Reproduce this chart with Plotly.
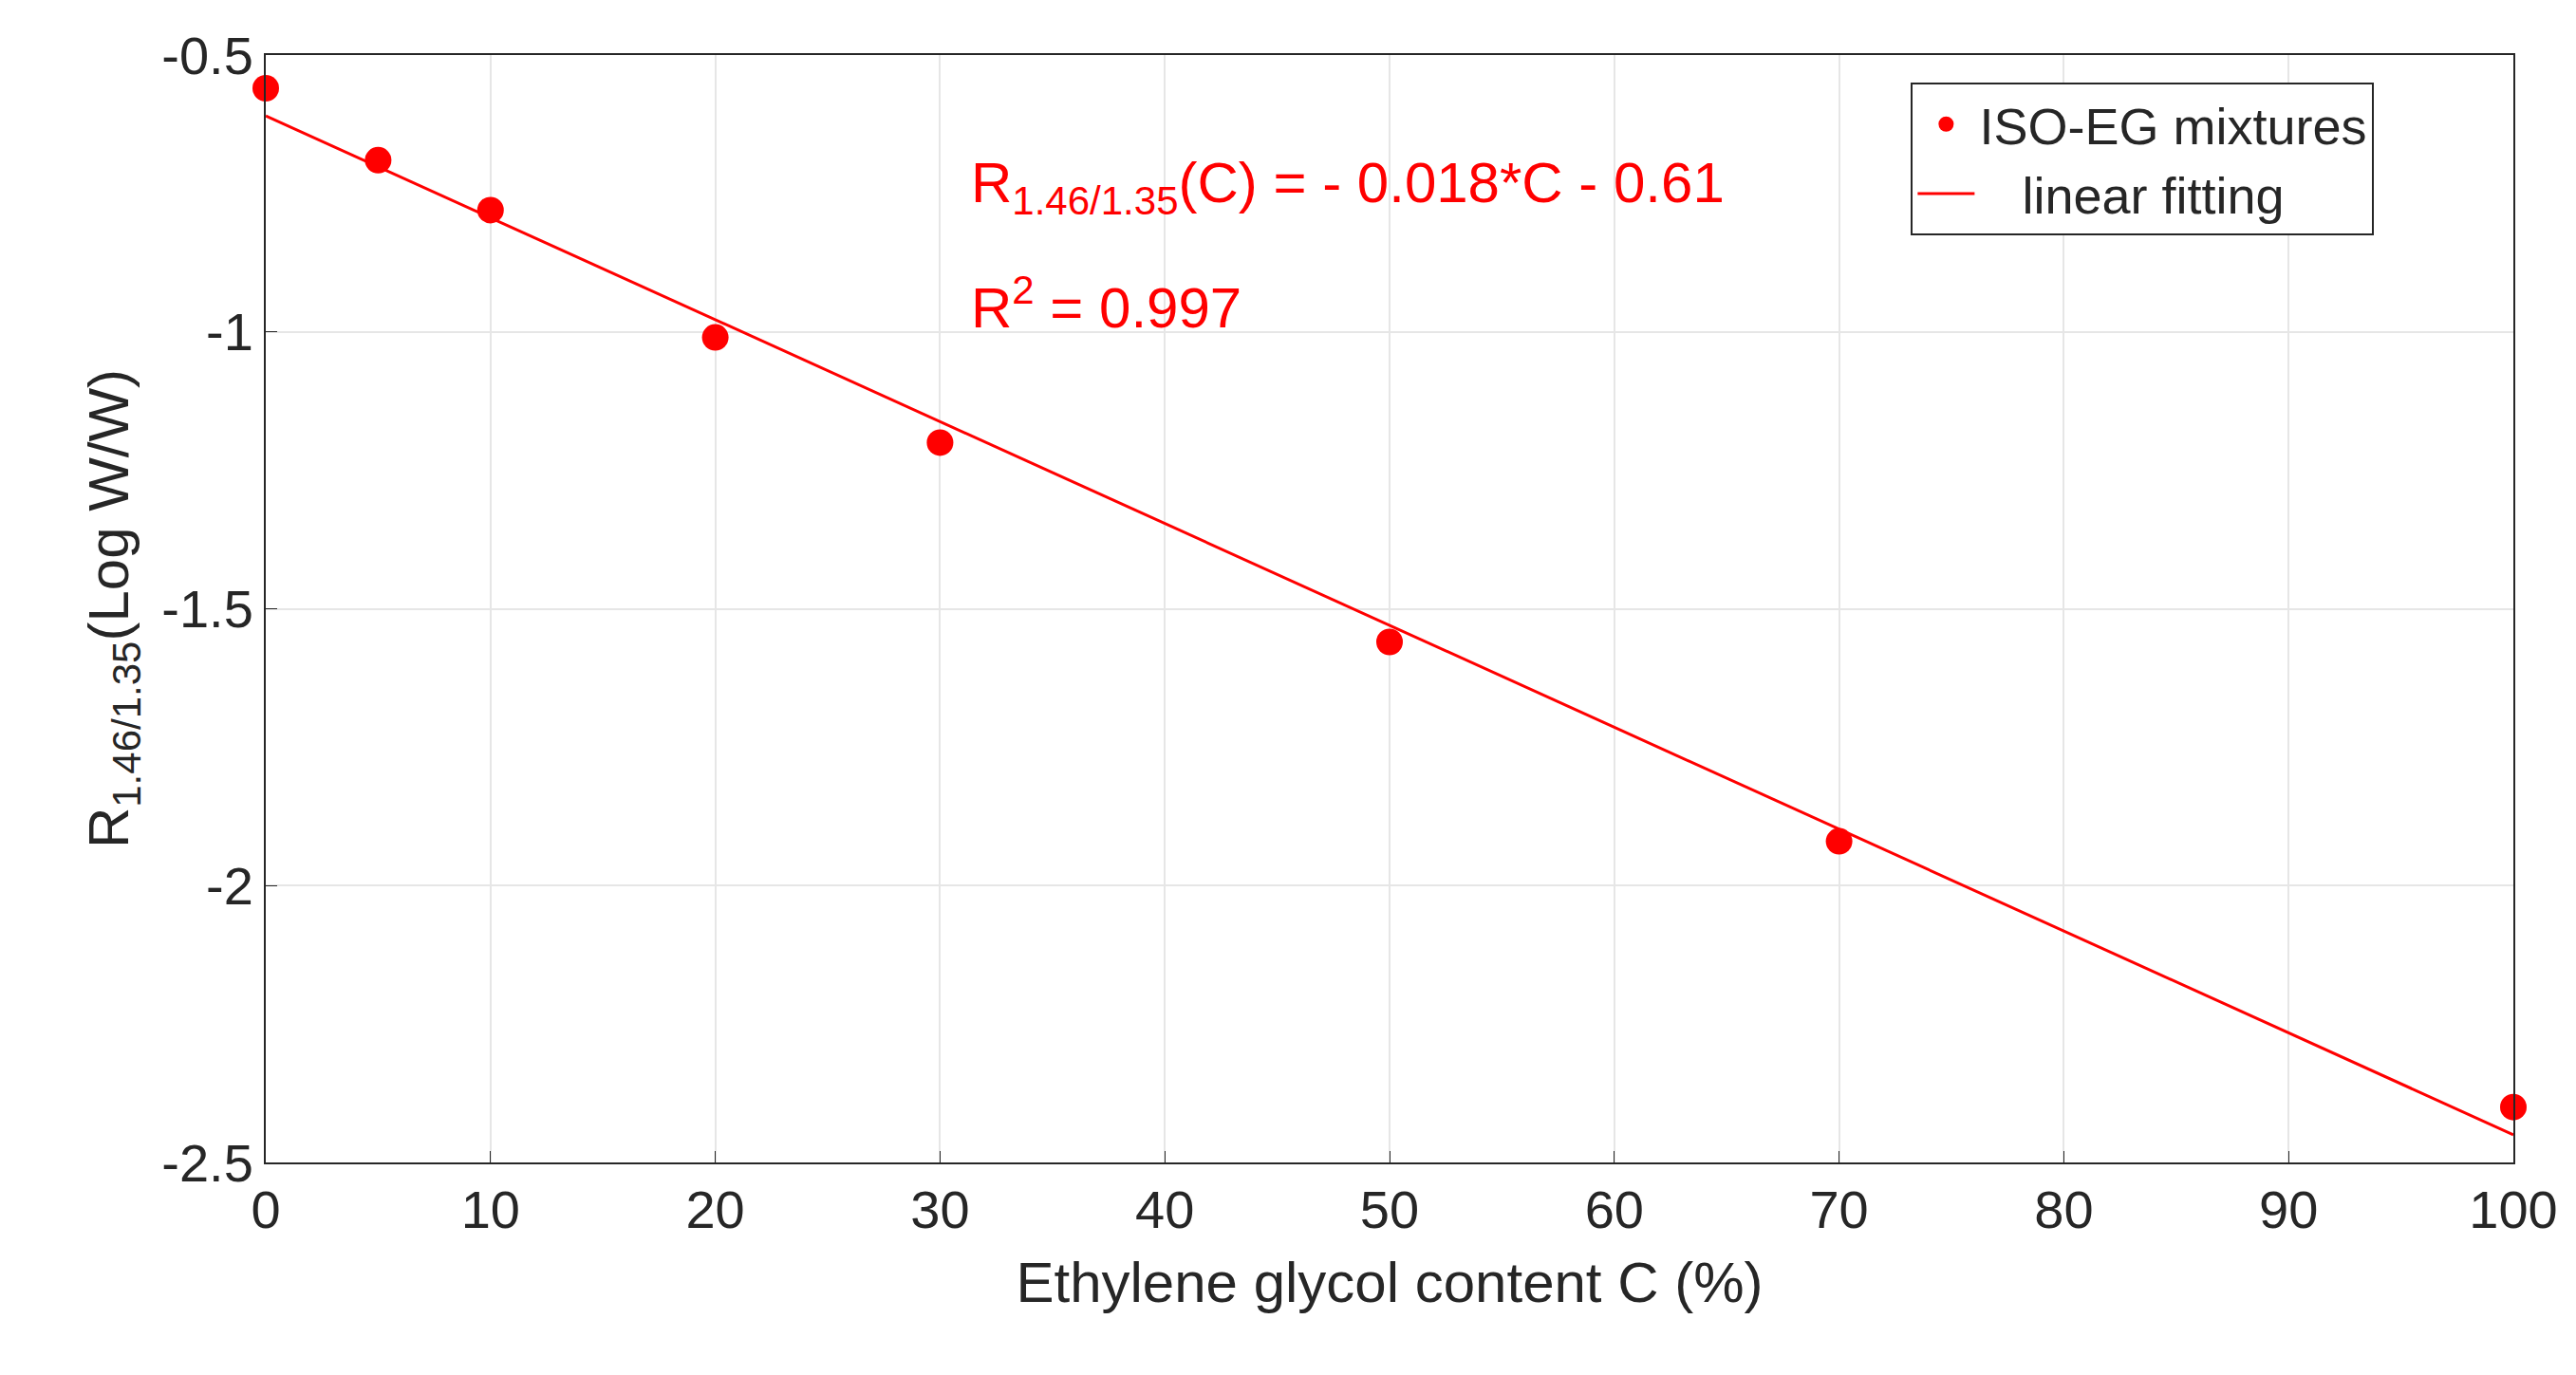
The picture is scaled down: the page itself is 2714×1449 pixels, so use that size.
import plotly.graph_objects as go

# measured data
conc = [0, 5, 10, 20, 30, 50, 70, 100]
ratio = [-0.56, -0.69, -0.78, -1.01, -1.20, -1.56, -1.92, -2.40]

# linear fit endpoints
fit_x = [0, 100]
fit_y = [-0.61, -2.45]

y_ticks = [-2.5, -2, -1.5, -1, -0.5]
y_labels = ["-2.5", "-2", "-1.5", "-1", "-0.5"]

red = "#ff0000"
font = "Arial, Liberation Sans, sans-serif"

fig = go.Figure()
fig.add_trace(go.Scatter(x=conc, y=ratio, mode="markers", name="ISO-EG mixtures",
                         marker=dict(color=red, size=28), cliponaxis=False))
fig.add_trace(go.Scatter(x=fit_x, y=fit_y, mode="lines", name="   linear fitting",
                         line=dict(color=red, width=3)))

axis = dict(showline=True, linecolor="#262626", linewidth=2, mirror=True,
            gridcolor="#e6e6e6", gridwidth=2, ticks="inside", ticklen=12,
            tickcolor="#262626", zeroline=False,
            tickfont=dict(size=56, color="#262626"))

fig.update_layout(
    width=2714, height=1449,
    paper_bgcolor="white", plot_bgcolor="white",
    margin=dict(l=272, r=74, t=50, b=232),
    font=dict(family=font, color="#262626"),
    xaxis=dict(axis, range=[0, 100], dtick=10,
               title=dict(text="Ethylene glycol content C (%)", font=dict(size=60), standoff=25)),
    yaxis=dict(axis, range=[-2.5, -0.5], tickvals=y_ticks, ticktext=y_labels,
               title=dict(text="R<sub>1.46/1.35</sub>(Log W/W)", font=dict(size=60), standoff=15)),
    legend=dict(x=0.732, y=0.975, xanchor="left", yanchor="top",
                bgcolor="white", bordercolor="#262626", borderwidth=2,
                font=dict(size=54, color="#262626"), tracegroupgap=40,
                itemwidth=60),
    showlegend=True,
)

fig.add_annotation(x=0.313, y=0.915, xref="paper", yref="paper", xanchor="left",
                   showarrow=False, font=dict(size=60, color=red),
                   text="R<sub>1.46/1.35</sub>(C) = - 0.018*C - 0.61")
fig.add_annotation(x=0.313, y=0.81, xref="paper", yref="paper", xanchor="left",
                   showarrow=False, font=dict(size=60, color=red),
                   text="R<sup>2</sup> = 0.997")

fig.write_html("out.html")
